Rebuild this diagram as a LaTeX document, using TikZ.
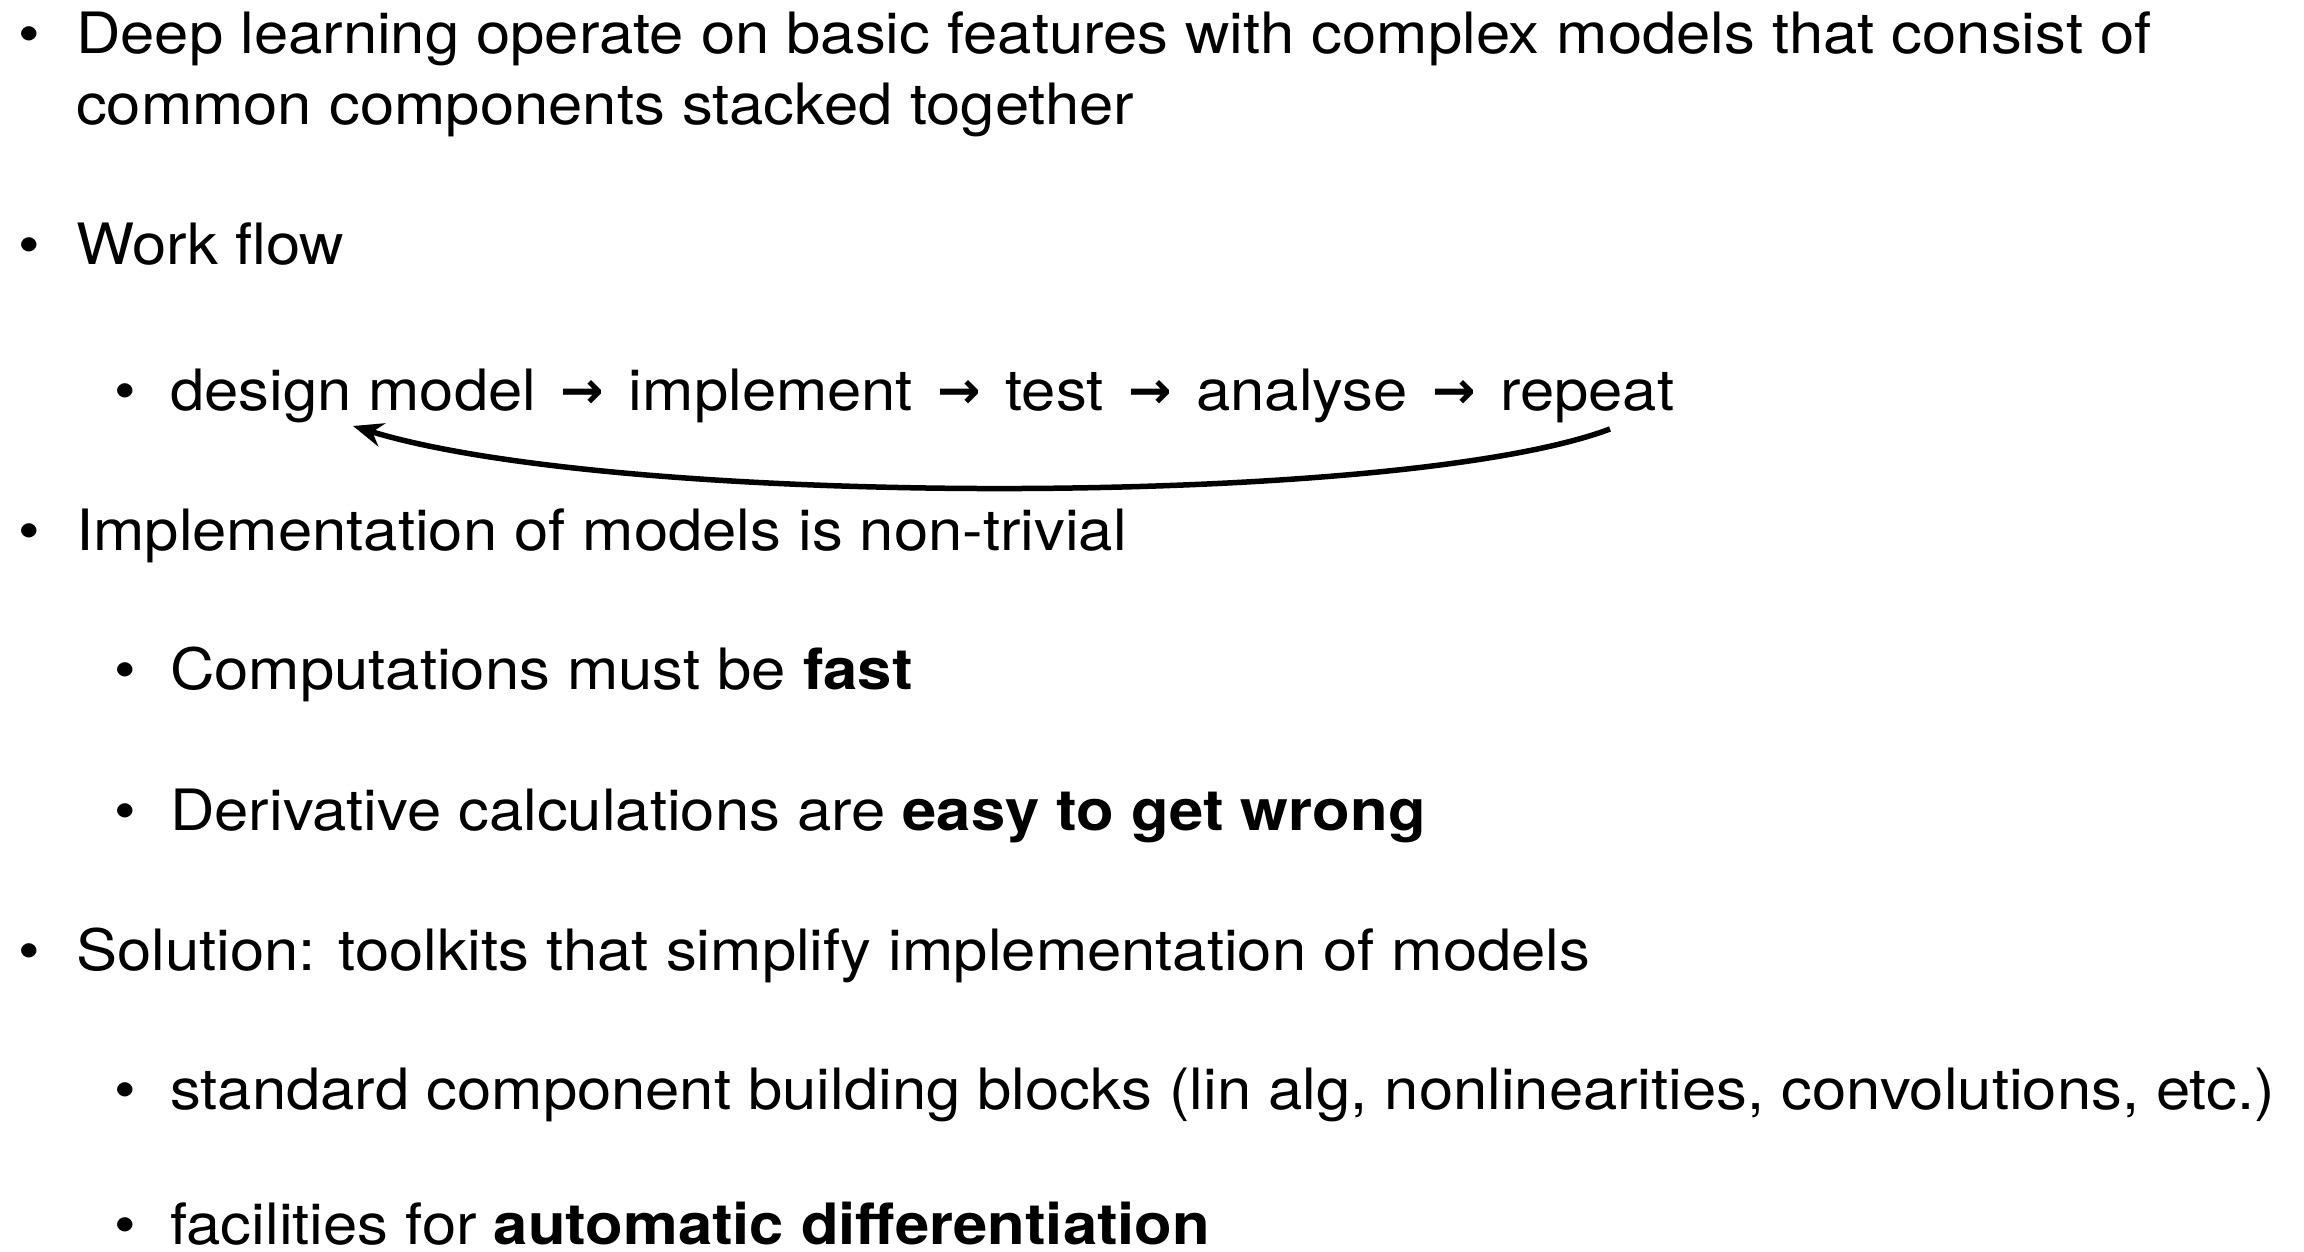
\documentclass[tikz,border=0pt]{standalone}
\usepackage{fontspec}
\setmainfont{TeX Gyre Heros}[FakeStretch=1.08]
\newfontfamily\arrowfont{DejaVu Sans Bold}
\usetikzlibrary{arrows.meta}
\newcommand\wfarrow{\hspace{0.13em}\raisebox{2pt}{\arrowfont\fontsize{52}{52}\selectfont →}\hspace{0.13em}}
\begin{document}
\begin{tikzpicture}[x=1pt,y=-1pt,
  txt/.style={anchor=base west, inner sep=0pt, font=\fontsize{57}{68}\selectfont},
  bul/.style={anchor=base, inner sep=0pt, font=\fontsize{57}{68}\selectfont},
  loop/.style={line width=5.5pt, -{Stealth[length=30pt,width=24pt]}}]
\useasboundingbox (0,0) rectangle (2304,1252);
\fill[white] (0,0) rectangle (2304,1252);
% bullets
\node[bul] (b1) at (29,54) {•};
\node[bul] (b2) at (29,264) {•};
\node[bul] (b3) at (125,410) {•};
\node[bul] (b4) at (29,550) {•};
\node[bul] (b5) at (125,689) {•};
\node[bul] (b6) at (125,830) {•};
\node[bul] (b7) at (29,970) {•};
\node[bul] (b8) at (125,1109) {•};
\node[bul] (b9) at (125,1244) {•};
% text
\node[txt] (t1) at (76,54) {Deep learning operate on basic features with complex models that consist of};
\node[txt] (t1b) at (76,125) {common components stacked together};
\node[txt] (t2) at (76,264) {Work flow};
\node[txt] (t3) at (170,410) {design model \wfarrow{} implement \wfarrow{} test \wfarrow{} analyse \wfarrow{} repeat};
\node[txt] (t4) at (76,550) {Implementation of models is non-trivial};
\node[txt] (t5) at (170,689) {Computations must be \textbf{fast}};
\node[txt] (t6) at (170,830) {Derivative calculations are \textbf{easy to get wrong}};
\node[txt] (t7) at (76,970) {Solution: toolkits that simplify implementation of models};
\node[txt] (t8) at (170,1109) {standard component building blocks (lin alg, nonlinearities, convolutions, etc.)};
\node[txt] (t9) at (170,1244) {facilities for \textbf{automatic differentiation}};
% loop arrow
\coordinate (cs) at (1610,429);
\coordinate (ce) at (353,426);
\draw[loop] (cs) .. controls (1400,508) and (620,508) .. (ce);
\end{tikzpicture}
\end{document}
